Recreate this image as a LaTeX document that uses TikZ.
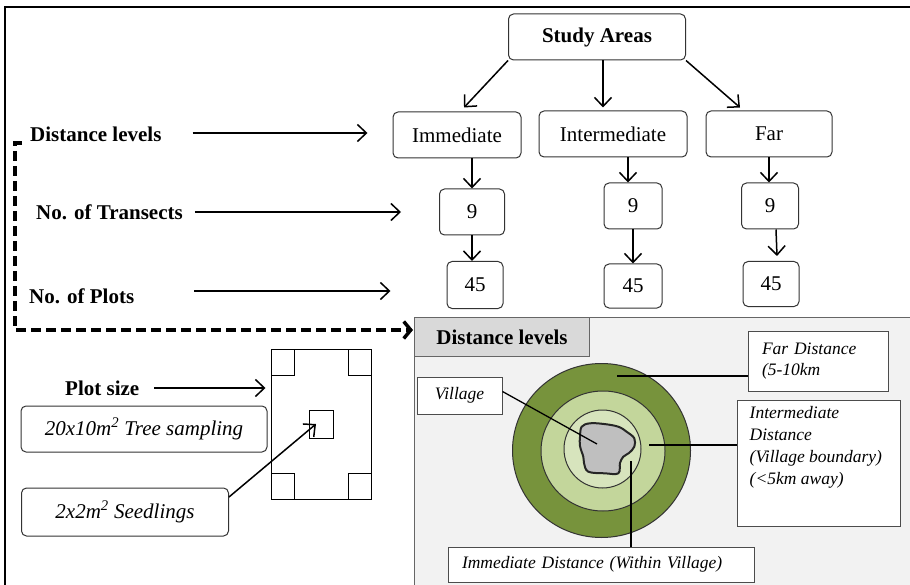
\documentclass[tikz,border=0pt]{standalone}
\usepackage{fontspec}
\setmainfont{Liberation Serif}
\usetikzlibrary{arrows.meta}
\definecolor{fargreen}{HTML}{77933C}
\definecolor{midgreen}{HTML}{C3D69B}
\definecolor{neargreen}{HTML}{D7E4BD}
\definecolor{villgray}{HTML}{BFBFBF}
\definecolor{panelgray}{HTML}{F2F2F2}
\definecolor{headgray}{HTML}{D9D9D9}

\begin{document}
\begin{tikzpicture}[x=1pt,y=-1pt,
		font=\fontsize{21}{25}\selectfont,
		box/.style={draw=black!80,rounded corners=5pt,line width=1pt,inner sep=0pt,minimum height=46pt},
		lbl/.style={font=\fontsize{21}{25}\selectfont\bfseries,inner sep=0pt},
		arr/.style={-{Straight Barb[length=9pt,width=17pt]},line width=1.5pt},
		sq/.style={draw,line width=1pt,inner sep=0pt,minimum width=23pt,minimum height=26pt},
		callout/.style={draw=black!70,fill=white,line width=1pt,inner xsep=14pt,align=left,font=\fontsize{17.5}{21.5}\selectfont\itshape},
		dashbr/.style={-{Straight Barb[length=7pt,width=17pt]},line width=3.5pt,dash pattern=on 10pt off 5pt}
	]
	\clip (0,0) rectangle (910,585);
	\draw[line width=1.2pt] (5,7) rectangle (930,600);

	\node[box,minimum width=177pt,font=\fontsize{21}{25}\selectfont\bfseries] (sa) at (597,37) {Study Areas};
	\node[box,minimum width=128pt] (imm) at (457,135) {Immediate};
	\node[box,minimum width=148pt] (inter) at (613,134) {Intermediate};
	\node[box,minimum width=126pt] (far) at (769,134) {Far};
	\node[box,minimum width=65pt] (t1) at (472,212) {9};
	\node[box,minimum width=58pt] (t2) at (633,206) {9};
	\node[box,minimum width=57pt] (t3) at (770,206) {9};
	\node[box,minimum width=56pt,minimum height=47pt] (p1) at (475,285) {45};
	\node[box,minimum width=58pt,minimum height=44pt] (p2) at (633,286) {45};
	\node[box,minimum width=56pt,minimum height=45pt] (p3) at (771,284) {45};

	\draw[arr] (sa.south west) -- ([xshift=7pt,yshift=4pt]imm.north);
	\draw[arr] ([xshift=6pt]sa.south) -- ([xshift=-10pt,yshift=3pt]inter.north);
	\draw[arr] (sa.south east) -- ([xshift=-29pt,yshift=3pt]far.north);
	\draw[arr] (imm.south -| t1.north) -- (t1.north);
	\draw[arr] (t1.south) -- (t1.south |- p1.north);
	\draw[arr] ([xshift=-5pt]t2.north |- inter.south) -- ([xshift=-5pt]t2.north);
	\draw[arr] (t2.south) -- (t2.south |- p2.north);
	\draw[arr] (far.south) -- (far.south |- t3.north);
	\draw[arr] ([xshift=6pt]t3.south) -- ([xshift=6pt,yshift=5pt]p3.north);

	\node[lbl,anchor=west] (dl) at (30,134) {Distance levels};
	\node[lbl,anchor=west] (tr) at (36,212) {No. of Transects};
	\node[lbl,anchor=west] (pl) at (29,296) {No. of Plots};
	\draw[arr] ([xshift=31pt,yshift=1pt]dl.east) -- ([xshift=-25pt,yshift=2pt]imm.west);
	\draw[arr] ([xshift=12pt]tr.east) -- ([xshift=-38pt]t1.west);
	\draw[arr] ([xshift=60pt,yshift=5pt]pl.east) -- ([xshift=-56pt,yshift=-6pt]p1.west);

	\node[draw=black!60,fill=panelgray,line width=1pt,anchor=north west,minimum width=520pt,minimum height=290pt] (panel) at (414,317) {};
	\node[lbl,draw=black!60,fill=headgray,line width=1pt,anchor=north west,minimum width=175pt,minimum height=39pt] (hdr) at (panel.north west) {Distance levels};
	\draw[dashbr] ([xshift=-8pt,yshift=-9pt]dl.west) -- ++(-7,0) |- ([xshift=-1pt,yshift=-13pt]panel.north west);

	\node[lbl,anchor=west] (ps) at (65,388) {Plot size};
	\node[draw,line width=1pt,minimum width=100pt,minimum height=150pt] (plot) at (321,424) {};
	\node[sq,anchor=north west] at (plot.north west) {};
	\node[sq,anchor=north east] at (plot.north east) {};
	\node[sq,anchor=south west] at (plot.south west) {};
	\node[sq,anchor=south east] at (plot.south east) {};
	\node[sq,minimum width=24pt,minimum height=28pt] (sub) at (plot.center) {};
	\node[box,minimum width=246pt,font=\fontsize{21}{25}\selectfont\itshape] (tree) at (144,429) {20x10m\textsuperscript{2} Tree sampling};
	\node[box,minimum width=207pt,minimum height=48pt,font=\fontsize{21}{25}\selectfont\itshape] (seed) at (125,512) {2x2m\textsuperscript{2} Seedlings};
	\draw[arr] ([xshift=15pt]ps.east) -- ([xshift=-5pt,yshift=36pt]plot.west);
	\draw[arr] ([yshift=15pt]seed.east) -- ([xshift=-5pt]sub.center);

	\draw[black!80,fill=fargreen,line width=1pt] (601.5,450.5) ellipse [x radius=89pt,y radius=87pt];
	\draw[black!80,fill=midgreen,line width=1pt] (603,451) ellipse [x radius=62pt,y radius=60pt];
	\draw[black!80,fill=neargreen,line width=1pt] (602.5,449) ellipse [x radius=38.5pt,y radius=39pt];
	\draw[black!85,fill=villgray,line width=2pt] plot[smooth cycle,tension=0.6] coordinates {
		(581.7,426.7) (590,423.3) (604,424) (618.3,426.7) (627,432) (634.3,438.3) (634.3,446.7)
		(629,453) (623.3,456.7) (620,463) (618.3,473.3) (605,473.3) (588.3,471.7) (584,463)
		(583.3,456.7) (580,446) (580,436.7)};

	\node[callout,minimum width=85pt,minimum height=37pt,inner xsep=0pt] (vil) at (459.5,395.5) {Village};
	\node[callout,text width=112pt,minimum height=60pt] (fd) at (818,361) {Far Distance\\(5-10km};
	\node[callout,minimum width=163pt,minimum height=126pt] (id) at (818.5,463) {};
	\node[anchor=north west,inner sep=0pt,align=left,font=\fontsize{17.5}{22}\selectfont\itshape] (idtxt) at ([xshift=13pt,yshift=-7pt]id.north west) {Intermediate\\Distance\\(Village boundary)\\(<5km away)};
	\node[callout,text width=278pt,minimum height=35pt] (md) at (601,564.5) {Immediate Distance (Within Village)};

	\coordinate (vpt) at (597,444);
	\coordinate (fpt) at (617,376);
	\coordinate (ipt) at (649,445);
	\coordinate (mpt) at (631,461);
	\draw[line width=1.3pt] ([yshift=4pt]vil.east) -- (vpt);
	\draw[line width=1.3pt] (fpt) -- (fpt -| fd.west);
	\draw[line width=1.3pt] (ipt) -- (ipt -| id.west);
	\draw[line width=1.3pt] (mpt) -- (mpt |- md.north);
\end{tikzpicture}
\end{document}
